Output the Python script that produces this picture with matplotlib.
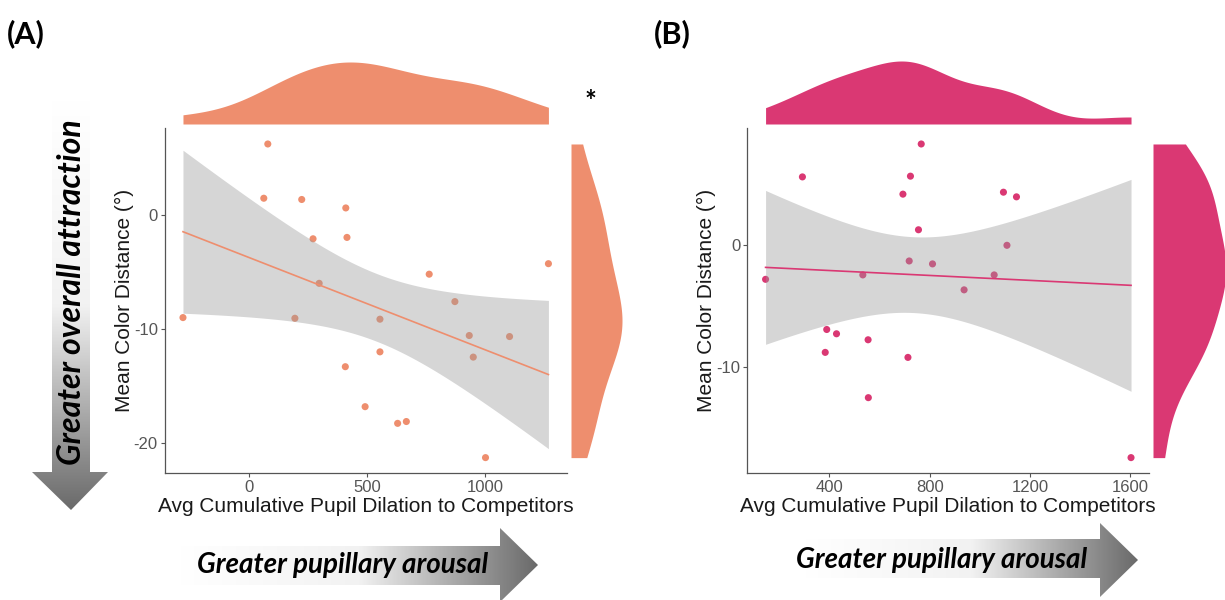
import numpy as np
import matplotlib.pyplot as plt
from matplotlib.patches import Polygon
from matplotlib.colors import LinearSegmentedColormap

plt.rcParams['font.family'] = ['Liberation Sans', 'DejaVu Sans']
plt.rcParams['axes.unicode_minus'] = False

# Panel A: avg cumulative pupil dilation vs mean color distance
a_x = [79, 62, 223, 410, 271, 415, 1270, 764, 297, 873, -281, 194, 555,
       934, 1105, 555, 951, 408, 492, 630, 667, 1003]
a_y = [6.2, 1.45, 1.34, 0.6, -2.1, -1.98, -4.28, -5.2, -6.0, -7.6, -9.0,
       -9.06, -9.14, -10.57, -10.66, -12.0, -12.46, -13.3, -16.8, -18.26,
       -18.1, -21.26]

# Panel B
b_x = [766, 292, 723, 693, 1094, 1146, 755, 1108, 718, 811, 145, 533, 1057,
       937, 389, 428, 554, 383, 713, 555, 1603]
b_y = [8.23, 5.54, 5.6, 4.13, 4.29, 3.91, 1.22, -0.05, -1.33, -1.57, -2.83,
       -2.47, -2.47, -3.69, -6.93, -7.28, -7.77, -8.8, -9.21, -12.5, -17.4]

a_xticks = [0, 500, 1000]
a_yticks = [0, -10, -20]
b_xticks = [400, 800, 1200, 1600]
b_yticks = [0, -10]

col_a = '#EE8E6E'
col_b = '#DA3873'

xlabel = 'Avg Cumulative Pupil Dilation to Competitors'
ylabel = 'Mean Color Distance (°)'

W, H = 1225, 600
fig = plt.figure(figsize=(W / 100, H / 100), dpi=100)


def box(x0, y0, x1, y1):
    # pixel box (y from top) -> figure fraction rect
    return [x0 / W, 1 - y1 / H, (x1 - x0) / W, (y1 - y0) / H]


def expand(v, f=0.05):
    lo, hi = min(v), max(v)
    d = (hi - lo) * f
    return lo - d, hi + d


def fit_band(x, y, tval):
    x = np.asarray(x, float)
    y = np.asarray(y, float)
    n = len(x)
    slope, icpt = np.polyfit(x, y, 1)
    gx = np.linspace(x.min(), x.max(), 200)
    fit = icpt + slope * gx
    resid = y - (icpt + slope * x)
    s = np.sqrt(np.sum(resid ** 2) / (n - 2))
    se = s * np.sqrt(1 / n + (gx - x.mean()) ** 2 / np.sum((x - x.mean()) ** 2))
    return gx, fit, fit - tval * se, fit + tval * se


def kde(v):
    # gaussian density, bw.nrd0 style, over the data range
    v = np.asarray(v, float)
    n = len(v)
    iqr = np.subtract(*np.percentile(v, [75, 25]))
    bw = 0.9 * min(v.std(ddof=1), iqr / 1.34) * n ** -0.2
    g = np.linspace(v.min(), v.max(), 300)
    d = np.exp(-0.5 * ((g[:, None] - v[None, :]) / bw) ** 2).sum(1) / (n * bw * np.sqrt(2 * np.pi))
    return g, d


def panel(x, y, col, xticks, yticks, tval, main_box, top_box, right_box):
    ax = fig.add_axes(box(*main_box))
    xl, yl = expand(x), expand(y)
    ax.scatter(x, y, s=26, color=col, edgecolors='none', zorder=2)
    gx, fit, lo, hi = fit_band(x, y, tval)
    ax.fill_between(gx, lo, hi, color='#999999', alpha=0.4, lw=0, zorder=3)
    ax.plot(gx, fit, color=col, lw=1.2, zorder=4)
    ax.set_xlim(xl)
    ax.set_ylim(yl)
    ax.set_xticks(xticks)
    ax.set_yticks(yticks)
    for s in ['top', 'right']:
        ax.spines[s].set_visible(False)
    for s in ['left', 'bottom']:
        ax.spines[s].set_color('#555555')
        ax.spines[s].set_linewidth(0.9)
    ax.tick_params(color='#555555', length=3, width=0.8,
                   labelcolor='#555555', labelsize=12, pad=2)
    ax.set_xlabel(xlabel, fontsize=15, color='#1a1a1a', labelpad=1)
    ax.set_ylabel(ylabel, fontsize=15, color='#1a1a1a', labelpad=0)

    # top marginal density
    axt = fig.add_axes(box(*top_box))
    g, d = kde(x)
    axt.fill_between(g, 0, d, color=col, lw=0)
    axt.set_xlim(xl)
    axt.set_ylim(0, d.max())
    axt.axis('off')

    # right marginal density
    axr = fig.add_axes(box(*right_box))
    g, d = kde(y)
    axr.fill_betweenx(g, 0, d, color=col, lw=0)
    axr.set_ylim(yl)
    axr.set_xlim(0, d.max())
    axr.axis('off')
    return ax


panel(a_x, a_y, col_a, a_xticks, a_yticks, 2.086,
      (164.7, 128.3, 566.7, 473.3), (164.7, 62, 566.7, 124), (571, 128.3, 622, 473.3))
panel(b_x, b_y, col_b, b_xticks, b_yticks, 2.093,
      (747.3, 128.3, 1149.3, 473.3), (747.3, 61, 1149.3, 124), (1153, 128.3, 1226, 473.3))

# decorations in pixel coordinates
deco = fig.add_axes([0, 0, 1, 1], zorder=-1)
deco.set_facecolor('none')
cmap = LinearSegmentedColormap.from_list('g', ['#ffffff', '#f2f2f2', '#6a6a6a'])


def grad_arrow(pts, extent, vertical):
    poly = Polygon(pts, closed=True, fc='none', ec='none')
    deco.add_patch(poly)
    if vertical:
        arr = np.linspace(0, 1, 256)[:, None]
    else:
        arr = np.linspace(0, 1, 256)[None, :]
    im = deco.imshow(arr, extent=extent, origin='upper', aspect='auto', cmap=cmap)
    im.set_clip_path(poly)


# vertical arrow (panel A)
grad_arrow([(52, 100), (90, 100), (90, 472), (108, 472), (71, 510), (32, 472), (52, 472)],
           [32, 108, 510, 100], True)
# horizontal arrows
grad_arrow([(180, 546), (500, 546), (500, 528), (538, 565), (500, 602), (500, 585), (180, 585)],
           [180, 538, 602, 528], False)
grad_arrow([(805, 539), (1100, 539), (1100, 523), (1138, 560), (1100, 597), (1100, 578), (805, 578)],
           [805, 1138, 597, 523], False)

deco.set_xlim(0, W)
deco.set_ylim(H, 0)
deco.axis('off')

deco_font = dict(family=['Lato', 'DejaVu Sans'], fontweight='bold', style='italic', color='black')
deco.text(72, 292, 'Greater overall attraction', rotation=90, ha='center', va='center',
          fontsize=23, **deco_font)
deco.text(343, 565, 'Greater pupillary arousal', ha='center', va='center', fontsize=20, **deco_font)
deco.text(942, 560, 'Greater pupillary arousal', ha='center', va='center', fontsize=20, **deco_font)

lab_font = dict(family=['Lato', 'DejaVu Sans'], fontweight='bold', color='black', fontsize=22)
deco.text(7, 34, '(A)', ha='left', va='center', **lab_font)
deco.text(654, 34, '(B)', ha='left', va='center', **lab_font)
deco.text(590, 102, '*', ha='center', va='center', fontsize=20, fontweight='bold',
          family=['Lato', 'DejaVu Sans'])

fig.savefig('out.png', dpi=100)
